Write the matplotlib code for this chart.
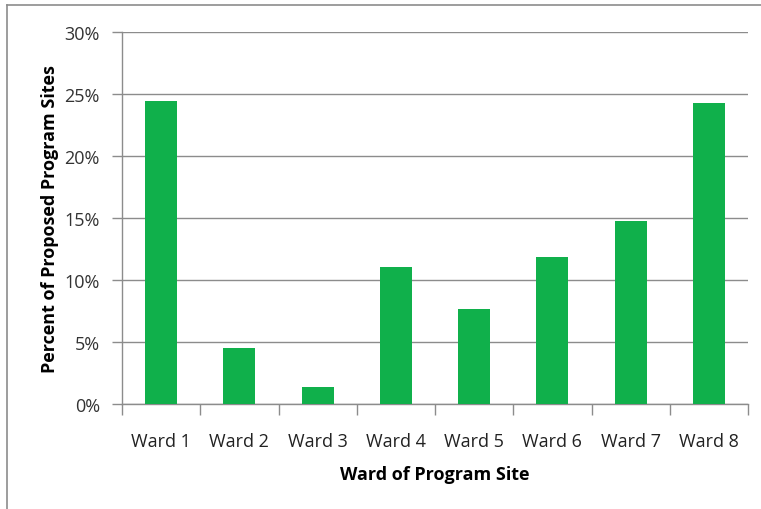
import matplotlib
matplotlib.use('Agg')
import matplotlib.pyplot as plt
import numpy as np
from matplotlib.lines import Line2D
from matplotlib.ticker import FixedLocator

# values (percent of proposed program sites)
wards = ['Ward 1', 'Ward 2', 'Ward 3', 'Ward 4', 'Ward 5', 'Ward 6', 'Ward 7', 'Ward 8']
percents = [24.4, 4.5, 1.4, 11.05, 7.65, 11.85, 14.75, 24.25]
y_ticks = [0, 5, 10, 15, 20, 25, 30]

plt.rcParams['font.family'] = ['Open Sans', 'DejaVu Sans']
grey = '#8c8c8c'

fig = plt.figure(figsize=(7.61, 5.10), dpi=100)
ax = fig.add_axes([122 / 761, 105 / 510, 626 / 761, 372 / 510])

x = np.arange(len(wards))
ax.bar(x, percents, width=0.41, color='#10b04b', zorder=3)

ax.set_xlim(-0.5, len(wards) - 0.5)
ax.set_ylim(0, 30)
ax.set_yticks(y_ticks)
ax.set_yticklabels([f'{t}%' for t in y_ticks], fontsize=13, color='#333333')
ax.set_xticks(x)
ax.set_xticklabels(wards, fontsize=13, color='#222222')
ax.xaxis.set_minor_locator(FixedLocator(np.arange(-0.5, len(wards), 1.0)))

ax.tick_params(axis='y', length=7, width=1, color=grey, pad=9)
ax.tick_params(axis='x', which='major', length=0, pad=20)
ax.tick_params(axis='x', which='minor', length=8, width=1, color=grey)

ax.grid(axis='y', color=grey, linewidth=1, zorder=0)
for side in ['top', 'right']:
    ax.spines[side].set_visible(False)
for side in ['left', 'bottom']:
    ax.spines[side].set_color(grey)
    ax.spines[side].set_linewidth(1)

ax.set_ylabel('Percent of Proposed Program Sites', fontsize=13, fontweight='bold', labelpad=4)
ax.set_xlabel('Ward of Program Site', fontsize=13, fontweight='bold', labelpad=11)

# outer chart frame (only top and left edges are visible in the reference)
fig.add_artist(Line2D([7 / 761, 1], [1 - 6 / 510, 1 - 6 / 510], color=grey, linewidth=1.2))
fig.add_artist(Line2D([7 / 761, 7 / 761], [0, 1 - 6 / 510], color=grey, linewidth=1.2))

fig.savefig('out.png', dpi=100)
